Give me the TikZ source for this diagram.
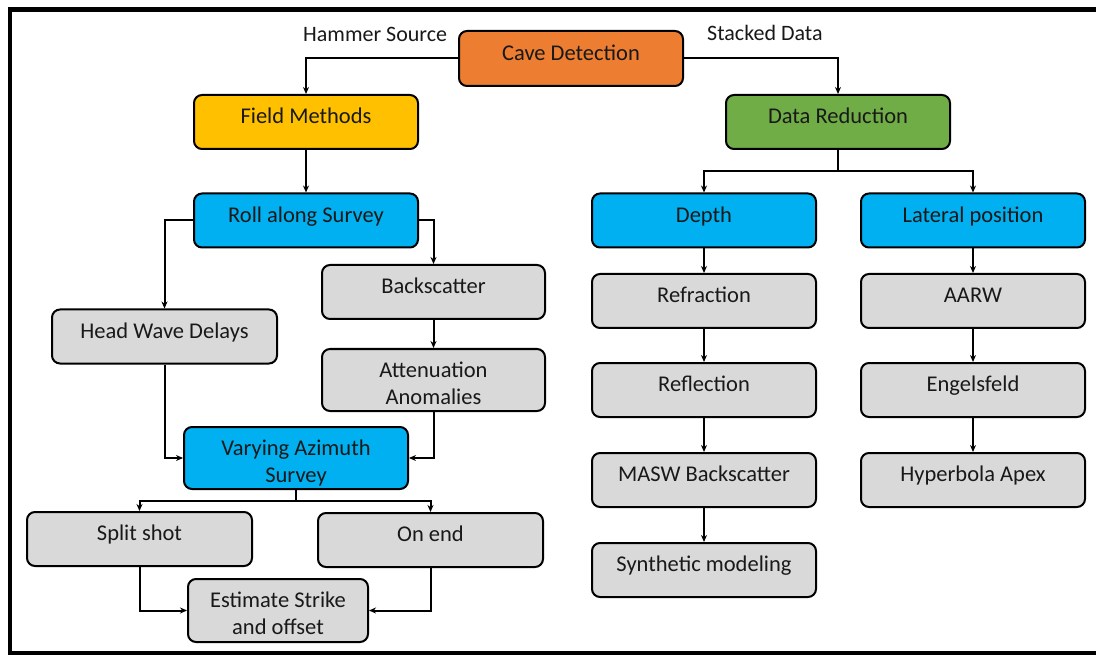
\documentclass[tikz,border=0pt]{standalone}
\usepackage{fontspec}
\setmainfont{Carlito}
\usetikzlibrary{arrows.meta}
\definecolor{cOrange}{HTML}{ED7D31}
\definecolor{cYellow}{HTML}{FFC000}
\definecolor{cGreen}{HTML}{70AD47}
\definecolor{cBlue}{HTML}{00B0F0}
\definecolor{cGray}{HTML}{D9D9D9}
\tikzset{
  box/.style={draw=black, line width=2pt, rounded corners=8pt, inner sep=0pt,
    minimum width=224pt, minimum height=54pt, align=center,
    font=\fontsize{22.5}{27}\selectfont, text=black!90},
  one/.style={text height=16pt, text depth=12.5pt},
  two/.style={text height=50pt, text depth=2pt},
  grey/.style={box, fill=cGray},
  blue/.style={box, fill=cBlue},
  conn/.style={line width=2pt, -{Stealth[length=7pt,width=6pt]}},
  plain/.style={line width=2pt},
  tag/.style={font=\fontsize{22}{26}\selectfont, inner sep=0pt, text=black!90}
}
\begin{document}
\begin{tikzpicture}[x=1pt,y=-1pt]
\useasboundingbox (0,0) rectangle (1096,655);
\fill[white] (0,0) rectangle (1096,655);
\draw[line width=4.5pt] (10,9.5) -- (1115,9.5) -- (1115,653) -- (10,653) -- cycle;

% top
\node[box, one, fill=cOrange, minimum height=55pt] (cave) at (571,58.5) {Cave Detection};
\node[tag, anchor=base west] (hammer) at (303,42) {Hammer Source};
\node[tag, anchor=base west] (stacked) at (707,41) {Stacked Data};

\node[box, one, fill=cYellow] (field) at (306,122) {Field Methods};
\node[box, one, fill=cGreen] (datared) at (838,122) {Data Reduction};

% left branch
\node[blue, one] (roll) at (306,220.5) {Roll along Survey};
\node[grey, one, minimum width=225pt] (head) at (164.5,336.5) {Head Wave Delays};
\node[grey, one, minimum width=223pt] (back) at (433.5,292) {Backscatter};
\node[grey, two, minimum width=223pt, minimum height=62pt] (atten) at (433.5,380) {Attenuation\\Anomalies};
\node[blue, two, minimum height=62pt] (vary) at (296,458) {Varying Azimuth\\Survey};
\node[grey, one, minimum width=225pt] (split) at (139.5,539) {Split shot};
\node[grey, one, minimum width=225pt] (onend) at (430.5,540) {On end};
\node[grey, two, minimum width=180pt, minimum height=63pt] (est) at (278,610.5) {Estimate Strike\\and offset};

% right branch
\node[blue, one] (depth) at (704,220.5) {Depth};
\node[blue, one] (lat) at (973,220.5) {Lateral position};
\node[grey, one] (refr) at (704,301) {Refraction};
\node[grey, one] (refl) at (704,390) {Reflection};
\node[grey, one] (masw) at (704,480) {MASW Backscatter};
\node[grey, one] (synth) at (704,570) {Synthetic modeling};
\node[grey, one] (aarw) at (973,301) {AARW};
\node[grey, one] (eng) at (973,390) {Engelsfeld};
\node[grey, one] (hyp) at (973,480) {Hyperbola Apex};

% connectors
\draw[conn] (cave.west) -| (field.north);
\draw[conn] (cave.east) -| (datared.north);
\draw[conn] (field) -- (roll);
\draw[conn] (roll.west) -| (head.north);
\draw[conn] (roll.east) -| (back.north);
\draw[conn] (back) -- (atten);
\draw[conn] (head.south) |- (vary.west);
\draw[conn] (atten.south) |- (vary.east);
\coordinate (vsplit) at (296,501);
\draw[plain] (vary.south) -- (vsplit);
\draw[conn] (vsplit) -| (split.north);
\draw[conn] (vsplit) -| (onend.north);
\draw[conn] (split.south) |- (est.west);
\draw[conn] (onend.south) |- (est.east);

\coordinate (dsplit) at (838,171);
\draw[plain] (datared.south) -- (dsplit);
\draw[conn] (dsplit) -| (depth.north);
\draw[conn] (dsplit) -| (lat.north);
\draw[conn] (depth) -- (refr);
\draw[conn] (refr) -- (refl);
\draw[conn] (refl) -- (masw);
\draw[conn] (masw) -- (synth);
\draw[conn] (lat) -- (aarw);
\draw[conn] (aarw) -- (eng);
\draw[conn] (eng) -- (hyp);
\end{tikzpicture}
\end{document}
